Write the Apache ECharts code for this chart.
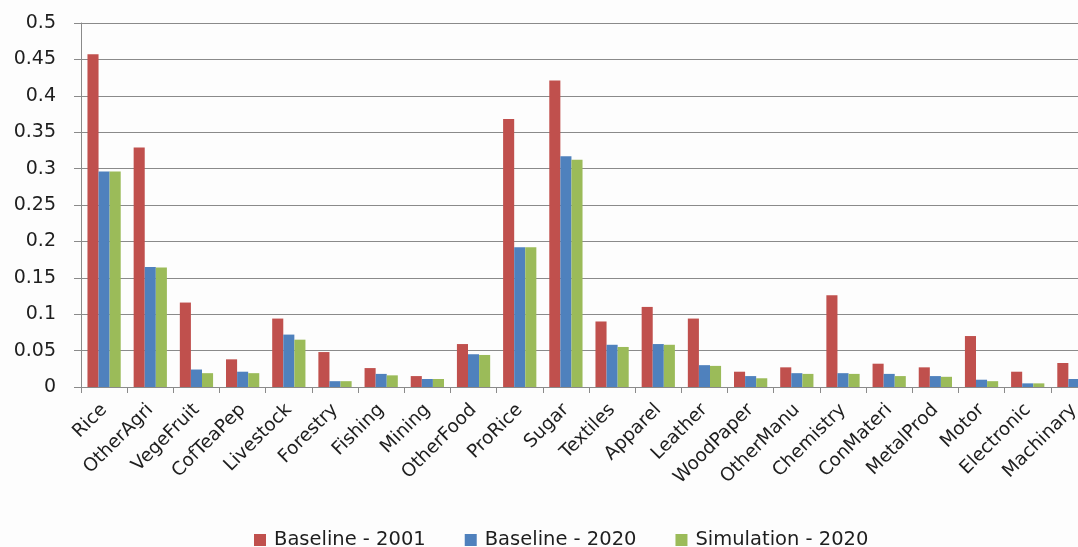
<!DOCTYPE html>
<html>
<head>
<meta charset="utf-8">
<script src="https://cdn.jsdelivr.net/npm/echarts@6/dist/echarts.min.js"></script>
<style>
  html, body { margin: 0; padding: 0; background: #fdfdfd; }
  #chart { width: 1078px; height: 547px; }
</style>
</head>
<body>
<div id="chart"></div>
<script>
// Sectors along the horizontal axis
const sectors = [
  'Rice', 'OtherAgri', 'VegeFruit', 'CofTeaPep', 'Livestock', 'Forestry',
  'Fishing', 'Mining', 'OtherFood', 'ProRice', 'Sugar', 'Textiles',
  'Apparel', 'Leather', 'WoodPaper', 'OtherManu', 'Chemistry', 'ConMateri',
  'MetalProd', 'Motor', 'Electronic', 'Machinary'
];

const baseline2001 = [
  0.457, 0.329, 0.116, 0.038, 0.094, 0.048,
  0.026, 0.015, 0.059, 0.368, 0.421, 0.090,
  0.110, 0.094, 0.021, 0.027, 0.126, 0.032,
  0.027, 0.070, 0.021, 0.033
];

const baseline2020 = [
  0.296, 0.165, 0.024, 0.021, 0.072, 0.008,
  0.018, 0.011, 0.045, 0.192, 0.317, 0.058,
  0.059, 0.030, 0.015, 0.019, 0.019, 0.018,
  0.015, 0.010, 0.005, 0.011
];

const simulation2020 = [
  0.296, 0.164, 0.019, 0.019, 0.065, 0.008,
  0.016, 0.011, 0.044, 0.192, 0.312, 0.055,
  0.058, 0.029, 0.012, 0.018, 0.018, 0.015,
  0.014, 0.008, 0.005, 0.010
];

const seriesNames = ['Baseline - 2001', 'Baseline - 2020', 'Simulation - 2020'];
const seriesColors = ['#c0504d', '#4f81bd', '#9bbb59'];

const FONT = '"DejaVu Sans", "Open Sans", sans-serif';
const TEXT_COLOR = '#1e1e1e';
const LINE_COLOR = '#8a8a8a';
const chart = echarts.init(document.getElementById('chart'));

const barSeries = [baseline2001, baseline2020, simulation2020].map((values, i) => ({
  name: seriesNames[i],
  type: 'bar',
  data: values,
  barGap: '0%',
  barCategoryGap: '28%',
  itemStyle: { color: seriesColors[i] },
  emphasis: { disabled: true }
}));

chart.setOption({
  backgroundColor: '#fdfdfd',
  animation: false,
  textStyle: { fontFamily: FONT },
  // the plot runs slightly past the right edge of the canvas
  grid: {
    left: 81,
    top: 23,
    width: 1016,
    height: 364,
    containLabel: false,
    outerBoundsMode: 'none'
  },
  legend: {
    left: 249,
    top: 525,
    itemWidth: 12,
    itemHeight: 12,
    itemGap: 39,
    icon: 'rect',
    textStyle: {
      fontSize: 19.5,
      color: TEXT_COLOR,
      fontFamily: FONT,
      padding: [0, 0, 0, 3]
    },
    data: seriesNames
  },
  xAxis: {
    type: 'category',
    data: sectors,
    boundaryGap: true,
    axisLine: { show: true, lineStyle: { color: LINE_COLOR, width: 1 } },
    axisTick: { show: true, length: 6, lineStyle: { color: LINE_COLOR } },
    axisLabel: {
      interval: 0,
      rotate: 45,
      margin: 20,
      fontSize: 18.5,
      color: TEXT_COLOR,
      fontFamily: FONT
    }
  },
  yAxis: {
    type: 'value',
    min: 0,
    max: 0.5,
    interval: 0.05,
    axisLine: { show: true, lineStyle: { color: LINE_COLOR, width: 1 } },
    axisTick: { show: true, length: 7, lineStyle: { color: LINE_COLOR } },
    splitLine: { show: true, lineStyle: { color: LINE_COLOR, width: 1 } },
    axisLabel: {
      margin: 25,
      fontSize: 19,
      color: TEXT_COLOR,
      fontFamily: FONT
    }
  },
  series: barSeries
});
</script>
</body>
</html>
